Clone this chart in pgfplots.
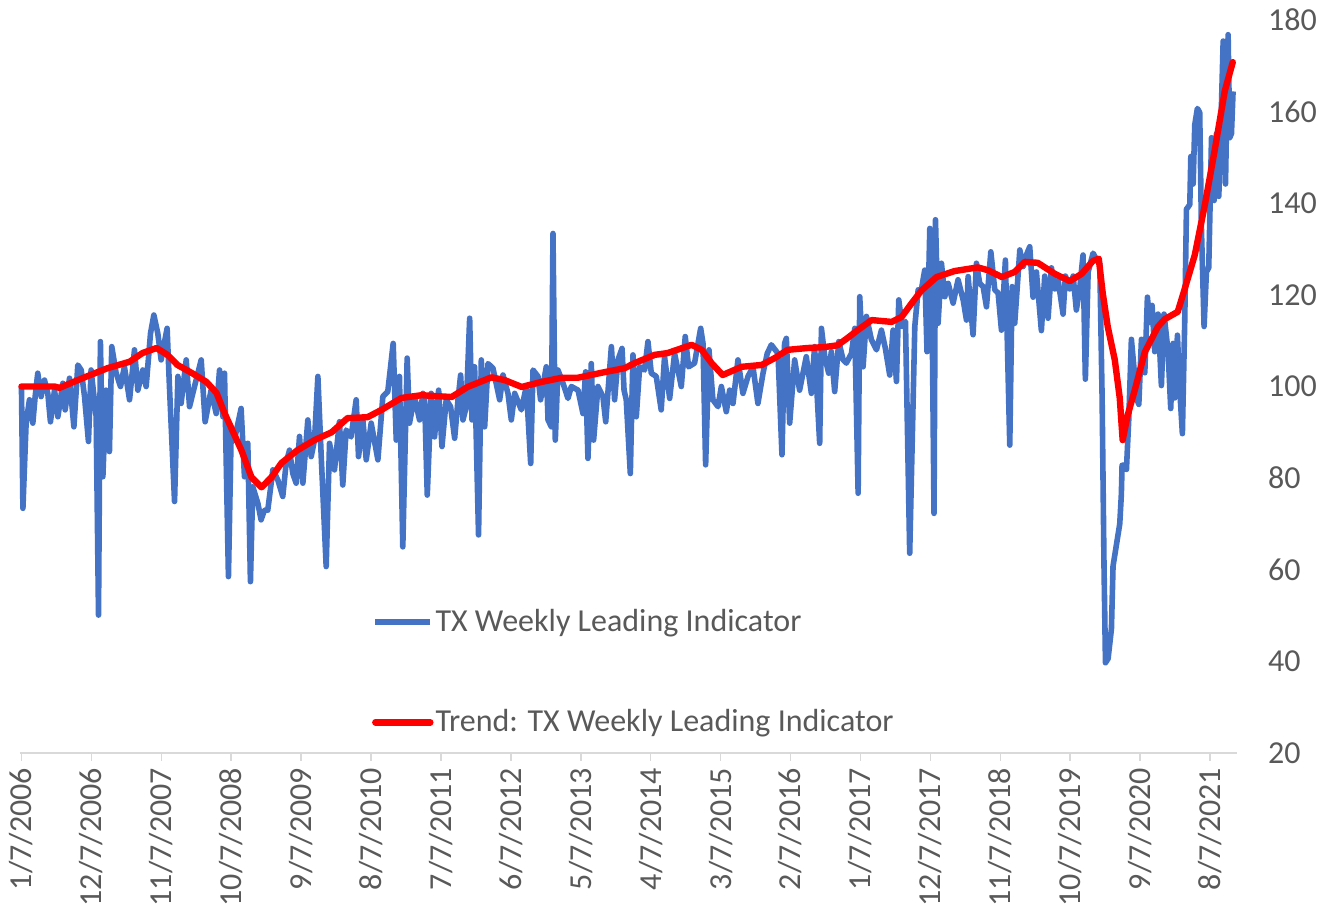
\documentclass[border=0pt]{standalone}
\usepackage{pgfplots}
\pgfplotsset{compat=1.18}
\usepackage{fontspec}
\setmainfont{Carlito}
\definecolor{exblue}{HTML}{4472C4}
\definecolor{exred}{HTML}{FF0000}
\definecolor{axgray}{HTML}{D9D9D9}
\definecolor{txtgray}{HTML}{595959}
\begin{document}
\begin{tikzpicture}
\begin{axis}[
  scale only axis,
  width=608.5pt, height=366.5pt,
  xmin=-1, xmax=834.5,
  ymin=20, ymax=180,
  axis x line*=bottom,
  axis y line*=right,
  x axis line style={draw=axgray, line width=0.75pt},
  y axis line style={draw=none},
  ytick={20,40,...,180},
  ytick style={draw=none},
  yticklabel pos=right,
  xtick={0,48,...,816},
  xticklabels={1/7/2006,12/7/2006,11/7/2007,10/7/2008,9/7/2009,8/7/2010,7/7/2011,6/7/2012,5/7/2013,4/7/2014,3/7/2015,2/7/2016,1/7/2017,12/7/2017,11/7/2018,10/7/2019,9/7/2020,8/7/2021},
  xtick style={draw=axgray, line width=0.75pt},
  tick align=outside,
  major tick length=4pt,
  xticklabel style={rotate=90, anchor=east, font=\fontsize{16}{19}\selectfont, text=txtgray},
  yticklabel style={anchor=west, xshift=8pt, font=\fontsize{16}{19}\selectfont, text=txtgray},
  /pgf/number format/assume math mode=true,
  legend cell align=left,
  legend style={draw=none, fill=none, at={(rel axis cs:0.289,0.199)}, anchor=north west,
    font=\fontsize{16}{19}\selectfont, text=txtgray, row sep=35.5pt, inner sep=0pt,
    nodes={inner sep=1pt}},
  legend image code/.code={\draw[#1] (0pt,0pt) -- (27.5pt,0pt);},
  clip=false,
]
\addplot[exblue, line width=2.8pt, line join=round] table {
0 100.0
1 73.4
3.2 92.0
5.5 97.1
7.8 92.0
9.4 97.8
11.2 102.9
13.5 97.8
15.8 101.4
18.1 98.5
19.9 92.3
22.7 99.2
25.0 93.4
28.4 100.7
30.0 94.9
33.0 101.8
36.0 91.2
38.7 104.7
41.0 103.6
43.3 97.8
46.0 88.0
47.8 103.6
51.3 93.4
52.9 50.1
54.2 109.8
55.9 80.3
58.1 99.2
60.4 85.8
62.0 108.7
65.0 102.9
68.0 100.0
70.7 104.3
74.2 97.1
77.6 108.0
79.9 99.2
83.3 103.6
85.6 100.0
88.6 111.6
90.9 115.6
93.6 111.6
95.9 105.8
100.0 112.7
101.6 100.0
105.1 74.9
107.4 102.2
109.6 96.3
113.1 105.8
115.4 95.6
118.8 100.0
123.4 105.8
126.1 92.3
130.2 99.2
133.7 94.1
136.0 103.6
138.3 93.4
139.4 102.9
142.1 58.5
144.0 90.5
146.2 88.3
150.8 95.2
153.1 80.3
155.4 87.6
157.2 57.4
158.8 78.1
162.3 74.5
164.5 70.9
166.8 73.0
169.1 73.0
172.6 81.8
176.0 79.6
179.4 76.0
181.7 83.2
184.0 86.1
186.3 81.0
188.6 78.9
190.9 89.1
193.2 78.9
196.6 92.7
198.9 84.7
201.2 88.3
203.5 102.2
205.8 84.7
209.2 60.7
211.5 87.6
214.9 81.8
218.3 92.3
220.6 78.5
222.9 90.5
226.3 89.0
229.8 97.1
231.4 84.7
234.4 92.7
236.7 84.0
240.1 92.0
244.7 84.0
248.1 97.8
251.5 98.9
255.2 109.4
257.3 88.3
259.5 102.2
261.8 65.0
264.8 106.2
266.4 92.0
269.8 97.8
273.3 92.7
275.6 98.5
276.8 97.1
278.6 76.3
281.3 98.5
283.6 89.0
286.4 99.2
288.7 86.9
291.6 97.1
294.6 95.6
297.4 88.7
299.7 97.1
301.5 102.5
303.1 92.7
305.4 95.6
307.7 114.9
309.3 92.7
311.1 104.3
313.8 67.6
315.7 105.8
318.0 91.2
320.3 105.0
323.7 104.0
328.3 97.1
330.6 102.5
334.0 98.5
336.3 92.7
338.6 98.5
343.2 94.9
346.6 100.0
349.6 83.2
351.2 103.6
354.6 102.2
356.4 97.1
360.3 104.3
361.5 92.7
363.8 91.2
364.9 133.4
366.5 88.3
368.3 103.6
371.8 100.7
375.2 97.4
377.5 100.0
382.1 99.2
385.5 94.1
387.3 103.2
388.9 84.3
391.2 105.0
392.8 88.3
395.8 100.0
399.2 97.8
401.1 92.3
405.0 108.7
407.2 97.1
409.5 105.8
412.3 108.3
413.7 99.2
415.2 97.1
418.0 81.0
419.8 106.9
422.1 93.4
424.4 104.3
427.8 103.6
430.1 109.8
432.4 102.9
435.8 102.2
439.2 94.9
441.5 106.5
445.0 97.4
448.4 107.2
453.0 100.0
455.7 110.9
458.0 104.3
462.1 105.1
466.3 112.7
467.9 109.4
469.7 82.9
472.0 108.0
474.7 97.1
478.2 95.6
480.5 100.0
483.9 94.5
486.2 99.2
488.5 96.3
491.9 105.8
495.3 98.5
498.8 102.2
502.2 104.3
505.6 96.3
509.1 102.9
512.0 107.2
514.8 109.1
519.4 107.2
522.1 85.1
523.9 109.4
525.1 110.5
527.4 92.0
530.8 105.8
534.2 99.2
538.8 106.5
542.3 98.5
544.5 108.7
548.0 87.6
549.2 112.7
551.5 106.5
554.2 102.9
556.0 107.6
558.3 98.9
561.1 109.8
564.1 105.8
566.3 105.1
569.8 107.2
572.1 112.7
574.4 76.7
575.5 119.6
577.8 104.3
580.1 115.3
583.5 110.2
587.0 108.0
590.4 112.3
593.1 108.3
596.1 102.5
598.4 112.3
600.7 101.1
602.3 118.9
604.6 113.1
606.9 114.2
609.8 63.6
613.3 113.1
615.6 121.1
617.8 121.1
620.1 125.4
621.7 107.6
623.6 134.5
625.2 115.3
626.5 72.3
627.5 136.4
629.3 113.8
631.6 126.9
633.9 119.6
636.2 122.5
639.6 118.2
643.0 123.3
646.5 118.9
648.8 114.5
649.9 124.0
653.3 111.3
655.6 126.9
657.9 122.5
660.2 121.8
662.5 117.4
665.5 129.4
668.2 121.1
670.5 120.4
672.8 112.3
675.5 127.6
678.5 87.2
680.1 121.8
681.9 113.8
685.4 129.8
687.7 126.2
689.9 128.7
692.2 130.5
694.5 119.5
696.8 125.0
700.2 112.2
702.5 124.1
704.8 114.9
707.1 125.9
709.4 121.3
711.7 123.2
715.1 115.8
716.7 124.1
719.7 121.3
722.0 124.1
724.2 116.7
726.5 121.3
728.8 128.7
730.4 101.6
732.3 125.0
735.7 129.1
738.0 127.7
740.3 126.8
741.9 97.5
743.2 60.8
744.2 39.7
746.0 40.6
748.3 47.1
749.4 60.8
751.7 65.4
754.0 70.0
755.1 76.4
755.6 82.8
757.4 82.8
758.6 81.9
760.2 92.9
762.0 110.3
763.8 103.9
765.4 97.5
767.1 96.1
768.9 110.3
771.2 103.0
773.0 119.5
774.6 114.0
776.2 117.7
778.0 107.6
780.3 115.8
782.6 100.2
784.4 115.8
787.2 107.6
789.0 95.2
790.6 109.4
791.8 97.5
793.6 111.2
795.2 99.3
797.0 89.7
798.6 114.0
799.8 138.7
802.1 139.7
802.8 150.2
804.4 144.2
805.5 157.1
807.3 160.7
808.9 159.8
810.1 134.2
811.9 113.1
813.5 125.0
815.1 125.9
817.0 154.3
818.8 140.6
820.4 155.2
822.0 141.5
823.4 156.2
825.0 175.4
826.6 144.2
828.4 176.8
829.5 154.3
830.7 155.2
831.8 164.4
};
\addlegendentry{TX Weekly Leading Indicator}
\addplot[exred, line width=3.2pt, line join=round, line cap=round] table {
0 100.0
22.7 100.0
26.1 99.7
43.3 102.0
59.1 104.0
74.2 105.4
83.1 107.3
92.7 108.4
100.3 106.9
107.1 104.7
116.7 103.0
127.0 101.0
133.9 98.6
139.4 94.2
151.1 86.0
157.9 80.2
164.8 78.0
171.7 80.2
178.5 83.3
189.5 86.1
201.2 88.3
212.9 90.0
223.9 93.1
237.6 93.3
247.2 94.9
260.9 97.5
274.7 98.1
295.3 97.7
306.3 99.9
322.7 102.0
331.7 101.4
343.4 99.9
357.1 101.0
370.8 101.9
381.8 101.9
398.3 103.0
414.1 104.0
420.9 105.1
434.7 106.9
443.6 107.3
460.1 109.1
467.0 108.0
473.8 105.1
481.4 102.5
494.4 104.3
508.2 104.7
517.1 106.2
526.0 108.0
539.7 108.4
551.4 108.6
560.3 109.0
567.2 110.6
574.1 112.3
583.7 114.5
597.4 114.1
604.3 115.2
611.2 118.2
618.0 121.0
628.3 123.9
640.7 125.2
656.5 126.0
663.3 125.4
673.0 123.9
681.9 125.0
688.8 127.2
697.7 127.0
709.4 124.6
719.7 123.0
727.9 124.6
735.5 127.4
739.6 127.9
742.3 120.4
745.8 113.0
750.6 105.8
754.0 97.5
756.0 88.3
759.5 93.8
764.3 99.2
771.2 107.5
780.1 113.0
784.9 114.7
793.8 116.3
798.6 121.3
805.5 128.7
812.4 139.6
819.2 151.6
826.1 164.5
831.6 170.8
};
\addlegendentry{Trend: TX Weekly Leading Indicator}
\coordinate (bl) at (rel axis cs:0,0);
\coordinate (tr) at (rel axis cs:1,1);
\end{axis}
\pgfresetboundingbox
\path[use as bounding box] ([xshift=-10pt,yshift=-81pt]bl) rectangle ([xshift=48pt,yshift=10pt]tr);
\end{tikzpicture}
\end{document}
